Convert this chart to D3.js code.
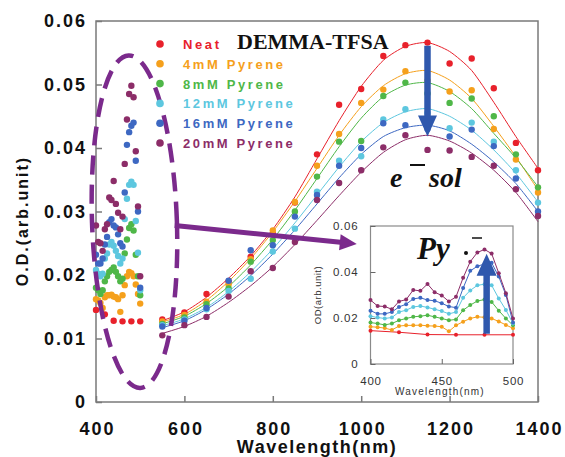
<!DOCTYPE html>
<html>
<head>
<meta charset="utf-8">
<script src="https://cdn.jsdelivr.net/npm/d3@7"></script>
<style>
  body { margin: 0; background: #fff; }
  svg { display: block; }
</style>
</head>
<body>
<script>
// series labels and colours
const seriesNames = ['Neat', '4mM Pyrene', '8mM Pyrene', '12mM Pyrene', '16mM Pyrene', '20mM Pyrene'];
const colors = ['#e8212b', '#f5a01c', '#4fb748', '#5dc7df', '#3d68c2', '#8c2d68'];

// NIR band (solvated electron), measured points
const nirWave = [550, 600, 650, 700, 750, 800, 850, 900, 950, 1000, 1050, 1100, 1150, 1200, 1250, 1300, 1350, 1400];
const nirNeat = [.0130, .0141, .0170, .0190, .0229, .0265, .0314, .0390, .0468, .0493, .0545, .0562, .0566, .0533, .0541, .0494, .0408, .0365];
const nir4mM  = [.0127, .0137, .0158, .0185, .0225, .0270, .0315, .0372, .0422, .0471, .0492, .0521, .0506, .0489, .0491, .0430, .0382, .0330];
const nir8mM  = [.0123, .0133, .0154, .0179, .0221, .0255, .0300, .0355, .0410, .0411, .0482, .0503, .0486, .0471, .0478, .0450, .0390, .0338];
const nir12mM = [.0121, .0130, .0146, .0175, .0194, .0237, .0273, .0331, .0380, .0387, .0445, .0461, .0455, .0431, .0440, .0410, .0365, .0314];
const nir16mM = [.0119, .0128, .0148, .0191, .0239, .0247, .0292, .0326, .0372, .0400, .0439, .0436, .0430, .0418, .0429, .0403, .0352, .0300];
const nir20mM = [.0105, .0121, .0134, .0166, .0206, .0211, .0252, .0318, .0345, .0365, .0401, .0420, .0397, .0396, .0386, .0372, .0335, .0293];

// fitted curves drawn through the NIR band
const fitNeat = [.0128, .0142, .0165, .0195, .0230, .0272, .0323, .0383, .0443, .0497, .0538, .0560, .0566, .0552, .0522, .0472, .0418, .0368];
const fit4mM  = [.0126, .0138, .0160, .0190, .0226, .0268, .0316, .0368, .0420, .0465, .0498, .0517, .0522, .0507, .0478, .0434, .0386, .0334];
const fit8mM  = [.0123, .0135, .0155, .0182, .0216, .0256, .0302, .0352, .0402, .0447, .0481, .0499, .0503, .0489, .0462, .0423, .0384, .0339];
const fit12mM = [.0120, .0131, .0149, .0174, .0205, .0241, .0282, .0326, .0370, .0410, .0440, .0457, .0462, .0450, .0428, .0397, .0360, .0315];
const fit16mM = [.0117, .0128, .0146, .0170, .0199, .0233, .0271, .0312, .0353, .0390, .0418, .0432, .0436, .0427, .0406, .0378, .0344, .0300];
const fit20mM = [.0108, .0119, .0135, .0157, .0183, .0213, .0248, .0286, .0325, .0362, .0393, .0413, .0420, .0411, .0392, .0365, .0330, .0284];

// visible band (pyrene radical anion)
const visWave = [400, 405, 410, 415, 420, 425, 430, 435, 440, 445, 450, 455, 460, 465, 470, 475, 480, 485, 490, 495, 500];
const visNeatWave = [400, 420, 440, 460, 480, 500];
const visNeat = [.0145, .0138, .0128, .0127, .0127, .0127];
const vis4mM  = [.0162, .0160, .0156, .0148, .0165, .0168, .0168, .0169, .0166, .0165, .0162, .0142, .0168, .0184, .0198, .0205, .0203, .0198, .0185, .0170, .0155];
const vis8mM  = [.0180, .0176, .0170, .0176, .0190, .0198, .0205, .0208, .0212, .0205, .0198, .0190, .0194, .0234, .0256, .0274, .0280, .0270, .0232, .0198, .0168];
const vis12mM = [.0208, .0202, .0198, .0202, .0226, .0234, .0248, .0252, .0246, .0238, .0230, .0218, .0226, .0288, .0320, .0342, .0347, .0342, .0285, .0235, .0176];
const vis16mM = [.0232, .0218, .0218, .0226, .0248, .0260, .0283, .0288, .0278, .0275, .0264, .0250, .0245, .0330, .0405, .0425, .0435, .0440, .0380, .0300, .0180];
const vis20mM = [.0278, .0252, .0250, .0238, .0272, .0280, .0322, .0318, .0348, .0312, .0298, .0272, .0292, .0375, .0445, .0485, .0498, .0480, .0395, .0308, .0198];

// ticks
const mainXTicks = [400, 600, 800, 1000, 1200, 1400];
const mainYTicks = [0, 0.01, 0.02, 0.03, 0.04, 0.05, 0.06];
const insetXTicks = [400, 450, 500];
const insetYTicks = [0, 0.02, 0.04, 0.06];

const zip = (xs, ys) => xs.map((x, i) => ({x, y: ys[i]}));
const series = seriesNames.map((name, i) => ({
  name,
  color: colors[i],
  nir: zip(nirWave, [nirNeat, nir4mM, nir8mM, nir12mM, nir16mM, nir20mM][i]),
  fit: zip(nirWave, [fitNeat, fit4mM, fit8mM, fit12mM, fit16mM, fit20mM][i]),
  vis: i === 0 ? zip(visNeatWave, visNeat) : zip(visWave, [null, vis4mM, vis8mM, vis12mM, vis16mM, vis20mM][i])
}));

const W = 565, H = 457;
const svg = d3.select('body').append('svg').attr('width', W).attr('height', H);

const x = d3.scaleLinear().domain([400, 1400]).range([96, 538]);
const y = d3.scaleLinear().domain([0, 0.06]).range([402, 21]);

const tickFmt = d => d === 0 ? '0' : d3.format('.2f')(d);
const sans = 'Liberation Sans, Arial, sans-serif';
const serif = 'Liberation Serif, Times New Roman, serif';

// main frame
svg.append('rect')
  .attr('x', x(400)).attr('y', y(0.06))
  .attr('width', x(1400) - x(400)).attr('height', y(0) - y(0.06))
  .attr('fill', 'none').attr('stroke', '#7a7a7a').attr('stroke-width', 1.5);

// main axes
const yAxis = svg.append('g')
  .attr('transform', `translate(${x(400)},0)`)
  .call(d3.axisLeft(y).tickValues(mainYTicks).tickFormat(tickFmt).tickSizeInner(-6).tickSizeOuter(0).tickPadding(9));
const xAxis = svg.append('g')
  .attr('transform', `translate(0,${y(0)})`)
  .call(d3.axisBottom(x).tickValues(mainXTicks).tickFormat(d3.format('d')).tickSizeInner(-6).tickSizeOuter(0).tickPadding(20));
[xAxis, yAxis].forEach(g => {
  g.select('.domain').remove();
  g.selectAll('line').attr('stroke', '#7a7a7a').attr('stroke-width', 1.5);
  g.selectAll('text')
    .attr('font-family', sans).attr('font-weight', 'bold').attr('font-size', 18)
    .attr('letter-spacing', 2).attr('fill', '#111');
});
xAxis.selectAll('text').attr('dx', 1);

// axis titles
svg.append('text')
  .attr('x', (x(400) + x(1400)) / 2).attr('y', 453)
  .attr('text-anchor', 'middle')
  .attr('font-family', sans).attr('font-weight', 'bold').attr('font-size', 18).attr('letter-spacing', 1.5)
  .attr('fill', '#111')
  .text('Wavelength(nm)');
svg.append('text')
  .attr('transform', `translate(28,${y(0.0285)}) rotate(-90)`)
  .attr('text-anchor', 'middle')
  .attr('font-family', sans).attr('font-weight', 'bold').attr('font-size', 16).attr('letter-spacing', 2)
  .attr('fill', '#111')
  .text('O.D.(arb.unit)');

// fitted lines
const fitLine = d3.line().x(d => x(d.x)).y(d => y(d.y)).curve(d3.curveCardinal.tension(0.3));
svg.append('g').selectAll('path')
  .data(series)
  .enter().append('path')
  .attr('d', d => fitLine(d.fit))
  .attr('fill', 'none').attr('stroke', d => d.color).attr('stroke-width', 1);

// points, both bands
const pts = svg.append('g').selectAll('g')
  .data(series)
  .enter().append('g')
  .attr('fill', d => d.color);
pts.selectAll('circle')
  .data(d => d.vis.concat(d.nir))
  .enter().append('circle')
  .attr('cx', d => x(d.x)).attr('cy', d => y(d.y)).attr('r', 3.2);

// dashed ellipse round the visible band
const ex = x(487), ey = y(0.0284);
svg.append('ellipse')
  .attr('cx', ex).attr('cy', ey)
  .attr('rx', x(487) - x(391)).attr('ry', y(0) - y(0.0262))
  .attr('transform', `rotate(-2,${ex},${ey})`)
  .attr('fill', 'none').attr('stroke', '#7b2a8c').attr('stroke-width', 4.5)
  .attr('stroke-dasharray', '19 10');

// purple pointer to inset
const p0 = [x(578), y(0.0278)], p1 = [x(990), y(0.0249)];
const ang = Math.atan2(p1[1] - p0[1], p1[0] - p0[0]);
svg.append('line')
  .attr('x1', p0[0]).attr('y1', p0[1])
  .attr('x2', p1[0] - 14 * Math.cos(ang)).attr('y2', p1[1] - 14 * Math.sin(ang))
  .attr('stroke', '#7b2a8c').attr('stroke-width', 5);
svg.append('path')
  .attr('d', `M0,0 L-17,-8 L-17,8 Z`)
  .attr('transform', `translate(${p1[0]},${p1[1]}) rotate(${ang * 180 / Math.PI})`)
  .attr('fill', '#7b2a8c');

// blue arrow (down) on NIR peak
function vArrow(g, cx, yStart, yTip, shaft, headW, headL) {
  const dir = yTip > yStart ? 1 : -1;
  const yb = yTip - dir * headL;
  g.append('path')
    .attr('d', `M${cx - shaft / 2},${yStart} L${cx - shaft / 2},${yb} L${cx - headW / 2},${yb} L${cx},${yTip} L${cx + headW / 2},${yb} L${cx + shaft / 2},${yb} L${cx + shaft / 2},${yStart} Z`)
    .attr('fill', '#2f58ad');
}
vArrow(svg, x(1150), y(0.0561), y(0.0418), 6.5, 19, 21);

// legend
const leg = svg.append('g');
series.forEach((s, i) => {
  const ly = 44 + i * 19.8;
  leg.append('circle').attr('cx', 160).attr('cy', ly).attr('r', 3.8).attr('fill', s.color);
  leg.append('text')
    .attr('x', 183).attr('y', ly + 5)
    .attr('font-family', sans).attr('font-weight', 'bold').attr('font-size', 13).attr('letter-spacing', 2.6)
    .attr('fill', s.color)
    .text(s.name);
});
svg.append('text')
  .attr('x', 237).attr('y', 49)
  .attr('font-family', serif).attr('font-weight', 'bold').attr('font-size', 22)
  .attr('fill', '#111')
  .text('DEMMA-TFSA');

// e- sol label
const lbl = svg.append('g').attr('font-family', serif).attr('font-weight', 'bold').attr('font-style', 'italic')
  .attr('font-size', 28).attr('fill', '#111');
lbl.append('text').attr('x', 390).attr('y', 187).text('e');
lbl.append('line').attr('x1', 410).attr('x2', 425).attr('y1', 165).attr('y2', 165).attr('stroke', '#111').attr('stroke-width', 2);
lbl.append('text').attr('x', 429).attr('y', 187).text('sol');

// ---- inset ----
const xi = d3.scaleLinear().domain([400, 500]).range([370.5, 513]);
const yi = d3.scaleLinear().domain([0, 0.06]).range([364, 226]);
const inset = svg.append('g');

inset.append('rect')
  .attr('x', xi(400)).attr('y', yi(0.06))
  .attr('width', xi(500) - xi(400)).attr('height', yi(0) - yi(0.06))
  .attr('fill', '#fff').attr('stroke', '#8a8a8a').attr('stroke-width', 1.2);

const iy = inset.append('g')
  .attr('transform', `translate(${xi(400)},0)`)
  .call(d3.axisLeft(yi).tickValues(insetYTicks).tickFormat(tickFmt).tickSizeInner(-5).tickSizeOuter(0).tickPadding(12));
const ix = inset.append('g')
  .attr('transform', `translate(0,${yi(0)})`)
  .call(d3.axisBottom(xi).tickValues(insetXTicks).tickSizeInner(-5).tickSizeOuter(0).tickPadding(13));
[ix, iy].forEach(g => {
  g.select('.domain').remove();
  g.selectAll('line').attr('stroke', '#666');
  g.selectAll('text').attr('font-family', sans).attr('font-size', 11.5).attr('letter-spacing', 0.8).attr('fill', '#333');
});
inset.append('text')
  .attr('x', 440).attr('y', 395)
  .attr('text-anchor', 'middle')
  .attr('font-family', sans).attr('font-size', 10).attr('letter-spacing', 1.2).attr('fill', '#333')
  .text('Wavelength(nm)');
inset.append('text')
  .attr('transform', `translate(321,${yi(0.03)}) rotate(-90)`)
  .attr('text-anchor', 'middle')
  .attr('font-family', sans).attr('font-size', 9.5).attr('letter-spacing', 0.5).attr('fill', '#333')
  .text('OD(arb.unit)');

const visLine = d3.line().x(d => xi(d.x)).y(d => yi(d.y));
const iser = inset.append('g').selectAll('g')
  .data(series)
  .enter().append('g');
iser.append('path')
  .attr('d', d => visLine(d.vis))
  .attr('fill', 'none').attr('stroke', d => d.color).attr('stroke-width', 1);
iser.selectAll('circle')
  .data(d => d.vis.map(p => ({...p, c: d.color})))
  .enter().append('circle')
  .attr('cx', d => xi(d.x)).attr('cy', d => yi(d.y)).attr('r', 2)
  .attr('fill', d => d.c);

vArrow(inset, xi(481.5), yi(0.0132), yi(0.0479), 6.5, 20, 22);

const py = inset.append('g').attr('font-family', serif).attr('font-weight', 'bold').attr('font-style', 'italic')
  .attr('font-size', 31).attr('fill', '#111');
py.append('text').attr('x', 417).attr('y', 259).text('Py');
py.append('circle').attr('cx', 466).attr('cy', 253).attr('r', 2);
py.append('line').attr('x1', 472).attr('x2', 482).attr('y1', 238).attr('y2', 238).attr('stroke', '#111').attr('stroke-width', 1.5);
</script>
</body>
</html>
